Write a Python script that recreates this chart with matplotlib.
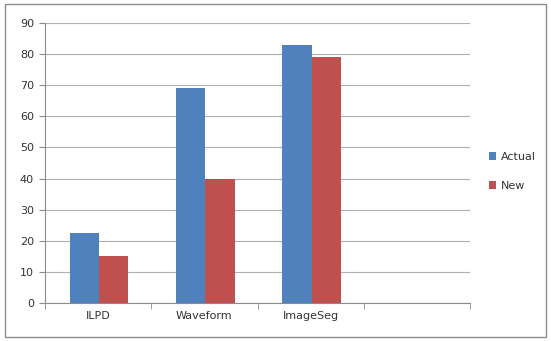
import matplotlib
matplotlib.use("Agg")
import matplotlib.pyplot as plt
from matplotlib.patches import Rectangle
import numpy as np

categories = ["ILPD", "Waveform", "ImageSeg", ""]
actual = [22.5, 69, 83, 0]
new = [15, 40, 79, 0]
yticks = [0, 10, 20, 30, 40, 50, 60, 70, 80, 90]

fig = plt.figure(figsize=(5.51, 3.41), dpi=100)
fig.patch.set_facecolor("white")
fig.patches.append(Rectangle((0.009, 0.012), 0.982, 0.976, transform=fig.transFigure,
                             fill=False, edgecolor="#8c8c8c", linewidth=1.0))
ax = fig.add_axes([0.0817, 0.1123, 0.7713, 0.8194])

x = np.arange(len(categories))
w = 0.275
ax.bar(x[:3] - w/2 + 0.01, actual[:3], w, color="#4F81BD", label="Actual", zorder=3)
ax.bar(x[:3] + w/2 + 0.01, new[:3], w, color="#C0504D", label="New", zorder=3)

ax.set_xlim(-0.5, 3.5)
ax.set_ylim(0, 90)
ax.set_yticks(yticks)
ax.set_yticklabels([str(v) for v in yticks], fontsize=8, color="#333333")
ax.set_xticks(x)
ax.set_xticklabels(categories, fontsize=8, color="#333333")
ax.tick_params(axis="x", length=0, pad=6)
ax.set_xticks(np.arange(-0.5, 4.0, 1.0), minor=True)
ax.tick_params(axis="x", which="minor", length=4, color="#8c8c8c", direction="out")
ax.tick_params(axis="y", length=4, color="#8c8c8c", pad=4)
ax.grid(axis="y", color="#b0b0b0", linewidth=0.8, zorder=0)
for s in ["top", "right"]:
    ax.spines[s].set_visible(False)
ax.spines["left"].set_color("#8c8c8c")
ax.spines["bottom"].set_color("#8c8c8c")

ax.legend(loc="center left", bbox_to_anchor=(1.02, 0.47), frameon=False, fontsize=8,
          handlelength=0.7, handleheight=0.7, handletextpad=0.4, labelspacing=1.7,
          labelcolor="#333333")

fig.savefig("out.png", dpi=100)
